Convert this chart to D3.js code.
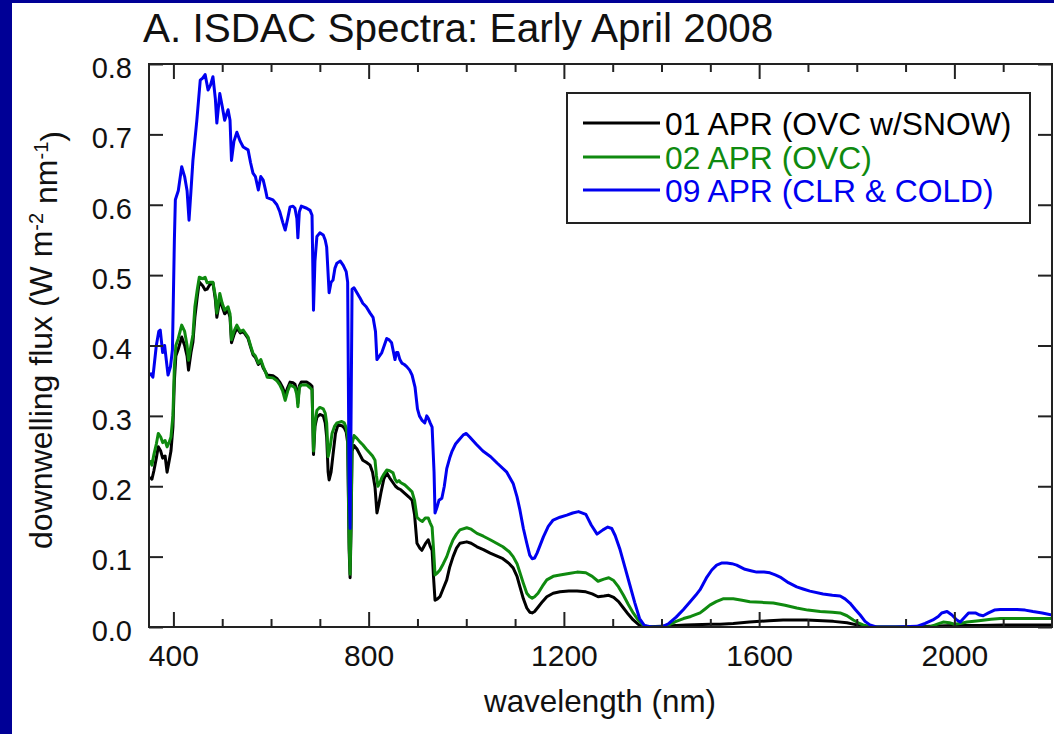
<!DOCTYPE html>
<html>
<head>
<meta charset="utf-8">
<script src="https://cdn.jsdelivr.net/npm/d3@7"></script>
<style>
  html, body { margin: 0; padding: 0; background: #000096; }
  svg { display: block; }
  text { font-family: "Liberation Sans", Arial, Helvetica, sans-serif; }
</style>
</head>
<body>
<svg id="chart" width="1054" height="734"></svg>
<script>
// ---------------- DATA ----------------
const seriesNames = ["01 APR (OVC w/SNOW)", "02 APR (OVC)", "09 APR (CLR & COLD)"];

// 01 APR (OVC w/SNOW)
const wl01 = [352,356,360,365,369,374,378,383,387,391,395,399,402,405,410,417,423,428,431,436,440,444,449,453,460,465,469,475,481,486,489,495,500,505,512,516,519,524,530,537,543,553,558,563,568,574,579,584,589,592,604,612,618,624,629,634,639,645,649,653,655,658,662,673,680,684,687,690,694,700,707,711,714,717,719,723,727,732,737,745,750,754,757,760,762,764,766,770,776,782,788,795,803,808,813,817,821,825,831,837,843,850,855,860,866,874,882,889,894,899,905,909,916,922,926,930,933,936,941,946,953,960,966,973,980,987,1001,1010,1022,1035,1049,1062,1075,1088,1096,1104,1110,1117,1124,1130,1135,1140,1147,1156,1165,1178,1192,1210,1227,1245,1258,1270,1282,1292,1302,1312,1322,1332,1342,1352,1362,1400,1450,1500,1520,1547,1580,1620,1649,1698,1730,1752,1780,1800,1815,1900,1950,2000,2050,2100,2150,2200];
const flux01 = [0.213,0.21,0.222,0.24,0.256,0.25,0.24,0.243,0.22,0.235,0.25,0.284,0.35,0.385,0.395,0.412,0.40,0.385,0.365,0.39,0.405,0.44,0.47,0.49,0.485,0.479,0.48,0.487,0.489,0.465,0.44,0.465,0.455,0.445,0.45,0.44,0.404,0.415,0.425,0.418,0.42,0.41,0.398,0.387,0.383,0.373,0.378,0.368,0.362,0.358,0.357,0.353,0.348,0.34,0.33,0.34,0.348,0.347,0.345,0.335,0.318,0.343,0.348,0.348,0.345,0.342,0.245,0.285,0.298,0.302,0.30,0.29,0.27,0.22,0.209,0.22,0.245,0.275,0.287,0.286,0.283,0.277,0.262,0.11,0.07,0.14,0.25,0.258,0.253,0.245,0.237,0.234,0.23,0.22,0.199,0.162,0.175,0.19,0.21,0.219,0.212,0.205,0.20,0.197,0.195,0.19,0.185,0.18,0.16,0.119,0.112,0.109,0.118,0.124,0.115,0.109,0.07,0.038,0.04,0.043,0.055,0.067,0.085,0.10,0.112,0.119,0.121,0.119,0.114,0.11,0.105,0.101,0.097,0.09,0.084,0.072,0.057,0.04,0.027,0.021,0.02,0.022,0.028,0.036,0.043,0.048,0.05,0.051,0.051,0.05,0.047,0.043,0.044,0.045,0.042,0.036,0.027,0.018,0.01,0.004,0.0,0.001,0.003,0.004,0.004,0.005,0.007,0.009,0.01,0.01,0.009,0.008,0.006,0.003,0.0,0.0,0.001,0.002,0.002,0.003,0.003,0.003];

// 02 APR (OVC)
const wl02 = [352,356,360,365,369,374,378,383,387,391,395,399,402,405,410,417,423,428,431,436,440,444,449,453,460,465,469,475,481,486,489,495,500,505,512,516,519,524,530,537,543,553,558,563,568,574,579,584,589,592,604,612,618,624,629,634,639,645,649,653,655,658,662,673,680,684,687,690,694,700,707,711,714,717,721,725,730,735,745,750,754,757,760,762,764,766,770,776,782,788,795,803,808,813,816,819,823,827,832,837,843,850,854,858,862,866,874,880,889,894,899,905,910,916,922,926,930,933,936,941,946,953,960,966,973,980,987,1001,1010,1022,1035,1049,1062,1075,1088,1096,1104,1110,1117,1124,1130,1135,1140,1147,1156,1165,1178,1192,1210,1227,1245,1258,1270,1282,1292,1302,1312,1322,1332,1342,1352,1362,1372,1400,1415,1430,1445,1460,1479,1490,1499,1512,1526,1547,1565,1581,1605,1629,1653,1677,1700,1725,1750,1766,1780,1793,1803,1813,1830,1950,1965,1977,1990,2000,2012,2026,2050,2075,2094,2150,2200];
const flux02 = [0.237,0.23,0.245,0.26,0.275,0.27,0.262,0.265,0.256,0.262,0.27,0.30,0.37,0.40,0.41,0.429,0.42,0.40,0.379,0.40,0.415,0.455,0.48,0.497,0.495,0.497,0.489,0.49,0.49,0.47,0.446,0.474,0.46,0.45,0.455,0.445,0.408,0.42,0.429,0.42,0.422,0.412,0.40,0.389,0.385,0.375,0.38,0.37,0.362,0.355,0.354,0.35,0.344,0.335,0.322,0.335,0.344,0.342,0.34,0.33,0.313,0.34,0.344,0.344,0.34,0.337,0.25,0.29,0.308,0.312,0.31,0.304,0.29,0.242,0.255,0.275,0.285,0.29,0.292,0.29,0.283,0.27,0.12,0.075,0.15,0.26,0.272,0.268,0.263,0.259,0.253,0.247,0.243,0.237,0.215,0.20,0.205,0.212,0.218,0.223,0.222,0.219,0.21,0.206,0.208,0.205,0.202,0.198,0.192,0.18,0.156,0.152,0.15,0.155,0.155,0.148,0.142,0.11,0.074,0.077,0.081,0.09,0.10,0.112,0.124,0.132,0.138,0.141,0.139,0.133,0.129,0.124,0.119,0.114,0.107,0.10,0.09,0.077,0.062,0.048,0.043,0.041,0.043,0.048,0.058,0.067,0.072,0.074,0.076,0.078,0.077,0.072,0.065,0.068,0.07,0.066,0.057,0.045,0.032,0.02,0.01,0.003,0.0,0.0,0.003,0.008,0.012,0.015,0.02,0.026,0.031,0.036,0.04,0.04,0.038,0.036,0.035,0.034,0.031,0.027,0.024,0.022,0.021,0.02,0.016,0.01,0.006,0.003,0.0,0.0,0.004,0.007,0.006,0.004,0.005,0.007,0.009,0.011,0.012,0.012,0.012];

// 09 APR (CLR & COLD)
const wl09 = [352,358,365,370,373,378,382,389,394,398,402,404,410,417,423,428,432,436,440,448,455,460,465,471,476,481,486,489,495,500,505,512,516,519,524,530,537,543,553,558,563,568,574,579,584,589,592,604,612,618,624,629,634,639,645,649,653,655,658,662,673,680,684,687,690,694,700,707,711,714,719,723,727,731,735,742,748,754,757,760,762,764,766,770,776,782,788,795,803,809,814,817,822,827,832,837,842,847,851,854,857,860,864,868,873,878,884,889,895,900,904,909,915,919,922,926,930,934,936,940,944,950,955,960,966,971,978,984,994,1000,1007,1020,1034,1050,1063,1083,1096,1104,1110,1117,1124,1130,1135,1140,1145,1158,1168,1178,1192,1206,1218,1230,1245,1256,1268,1280,1290,1298,1305,1315,1325,1335,1345,1355,1365,1380,1400,1415,1430,1445,1460,1470,1479,1493,1503,1513,1524,1534,1544,1554,1571,1583,1595,1610,1622,1633,1643,1660,1677,1690,1704,1731,1750,1766,1776,1786,1797,1807,1817,1827,1840,1880,1923,1940,1956,1967,1974,1985,1995,2005,2012,2020,2029,2043,2052,2059,2070,2082,2094,2128,2145,2161,2180,2200];
const flux09 = [0.361,0.355,0.40,0.42,0.422,0.39,0.40,0.358,0.37,0.394,0.55,0.607,0.62,0.654,0.64,0.62,0.578,0.62,0.663,0.72,0.777,0.78,0.785,0.763,0.77,0.782,0.75,0.716,0.758,0.74,0.72,0.735,0.72,0.663,0.69,0.703,0.69,0.682,0.678,0.66,0.645,0.64,0.621,0.64,0.635,0.62,0.61,0.607,0.60,0.59,0.575,0.564,0.58,0.597,0.598,0.595,0.58,0.553,0.59,0.598,0.595,0.592,0.585,0.45,0.52,0.555,0.56,0.557,0.55,0.54,0.475,0.49,0.493,0.51,0.517,0.52,0.514,0.505,0.49,0.20,0.14,0.30,0.48,0.482,0.475,0.468,0.46,0.455,0.446,0.44,0.42,0.38,0.385,0.39,0.40,0.41,0.408,0.404,0.39,0.38,0.39,0.39,0.38,0.375,0.373,0.37,0.365,0.358,0.341,0.31,0.30,0.294,0.29,0.30,0.297,0.29,0.284,0.22,0.162,0.17,0.18,0.183,0.20,0.225,0.24,0.25,0.26,0.265,0.273,0.275,0.27,0.26,0.25,0.242,0.233,0.22,0.204,0.185,0.166,0.14,0.119,0.102,0.097,0.098,0.105,0.128,0.143,0.152,0.156,0.159,0.162,0.164,0.16,0.145,0.132,0.138,0.142,0.14,0.13,0.11,0.085,0.06,0.035,0.012,0.002,0.0,0.0,0.005,0.014,0.025,0.037,0.045,0.053,0.071,0.081,0.088,0.091,0.091,0.09,0.088,0.082,0.08,0.078,0.078,0.077,0.074,0.071,0.063,0.057,0.054,0.051,0.047,0.045,0.044,0.04,0.034,0.025,0.017,0.008,0.003,0.0,0.0,0.001,0.005,0.01,0.015,0.02,0.022,0.017,0.01,0.007,0.013,0.02,0.02,0.017,0.016,0.02,0.024,0.025,0.025,0.024,0.022,0.02,0.017];

const seriesColors = ["#000000", "#0f8a0f", "#0000f0"];
const xMajorTicks = [400, 800, 1200, 1600, 2000];
const xMinorTicks = [500, 600, 700, 900, 1000, 1100, 1300, 1400, 1500, 1700, 1800, 1900, 2100];
const yTicks = [0.0, 0.1, 0.2, 0.3, 0.4, 0.5, 0.6, 0.7, 0.8];

const titleText = "A. ISDAC Spectra: Early April 2008";
const xLabel = "wavelength (nm)";

// ---------------- LAYOUT ----------------
const W = 1054, H = 734;
const plot = { left: 149, top: 64, right: 1052, bottom: 627 };

const svg = d3.select("#chart");
svg.append("rect").attr("x", 0).attr("y", 0).attr("width", W).attr("height", H).attr("fill", "#000096");
svg.append("rect").attr("x", 12).attr("y", 3).attr("width", W - 12).attr("height", H - 3).attr("fill", "#ffffff");

const x = d3.scaleLinear().domain([350, 2200]).range([plot.left, plot.right]);
const y = d3.scaleLinear().domain([0, 0.8]).range([plot.bottom, plot.top]);

// clip
svg.append("clipPath").attr("id", "clip").append("rect")
  .attr("x", plot.left).attr("y", plot.top - 2)
  .attr("width", plot.right - plot.left).attr("height", plot.bottom - plot.top + 2);

const line = d3.line().x(d => x(d[0])).y(d => y(d[1]));
const series = [
  { name: seriesNames[0], wl: wl01, v: flux01, color: seriesColors[0] },
  { name: seriesNames[1], wl: wl02, v: flux02, color: seriesColors[1] },
  { name: seriesNames[2], wl: wl09, v: flux09, color: seriesColors[2] }
];
const gLines = svg.append("g").attr("clip-path", "url(#clip)");
series.forEach(s => {
  gLines.append("path")
    .datum(s.wl.map((w, i) => [w, s.v[i]]))
    .attr("d", line)
    .attr("fill", "none")
    .attr("stroke", s.color)
    .attr("stroke-width", 3)
    .attr("stroke-linejoin", "round");
});

// axes
const axisColor = "#222";
function styleAxis(g) {
  g.select(".domain").remove();
  g.selectAll(".tick line").attr("stroke", axisColor).attr("stroke-width", 2);
  g.selectAll(".tick text").attr("fill", "#111").style("font-family", '"Liberation Sans", Arial, sans-serif');
}
// bottom major
svg.append("g").attr("transform", `translate(0,${plot.bottom})`)
  .call(d3.axisBottom(x).tickValues(xMajorTicks).tickSize(-15).tickPadding(18).tickFormat(d3.format("d")))
  .call(styleAxis)
  .call(g => g.selectAll(".tick text").style("font-size", "30px"));
// bottom minor
svg.append("g").attr("transform", `translate(0,${plot.bottom})`)
  .call(d3.axisBottom(x).tickValues(xMinorTicks).tickSize(-8).tickFormat(""))
  .call(styleAxis);
// top major + minor
svg.append("g").attr("transform", `translate(0,${plot.top})`)
  .call(d3.axisTop(x).tickValues(xMajorTicks).tickSize(-15).tickFormat(""))
  .call(styleAxis);
svg.append("g").attr("transform", `translate(0,${plot.top})`)
  .call(d3.axisTop(x).tickValues(xMinorTicks).tickSize(-8).tickFormat(""))
  .call(styleAxis);
// left
svg.append("g").attr("transform", `translate(${plot.left},0)`)
  .call(d3.axisLeft(y).tickValues(yTicks).tickSize(-14).tickPadding(17).tickFormat(d3.format(".1f")))
  .call(styleAxis)
  .call(g => g.selectAll(".tick text").style("font-size", "29px").attr("dy", "0.46em"));
// right
svg.append("g").attr("transform", `translate(${plot.right},0)`)
  .call(d3.axisRight(y).tickValues(yTicks).tickSize(-14).tickFormat(""))
  .call(styleAxis);

// frame
svg.append("rect")
  .attr("x", plot.left).attr("y", plot.top)
  .attr("width", plot.right - plot.left).attr("height", plot.bottom - plot.top)
  .attr("fill", "none").attr("stroke", axisColor).attr("stroke-width", 2);

// title
svg.append("text").attr("x", 143).attr("y", 42)
  .style("font-size", "40.5px").attr("fill", "#111").text(titleText);

// x label
svg.append("text").attr("x", 600).attr("y", 712).attr("text-anchor", "middle")
  .style("font-size", "31.4px").attr("fill", "#111").text(xLabel);

// y label with superscripts
const yl = svg.append("text")
  .attr("transform", "translate(52,340) rotate(-90)")
  .attr("text-anchor", "middle")
  .style("font-size", "32px").attr("fill", "#111");
yl.append("tspan").text("downwelling flux (W m");
yl.append("tspan").attr("dy", "-0.45em").style("font-size", "20px").text("-2");
yl.append("tspan").attr("dy", "0.45em").text(" nm");
yl.append("tspan").attr("dy", "-0.45em").style("font-size", "20px").text("-1");
yl.append("tspan").attr("dy", "0.45em").text(")");

// legend
const leg = { x0: 567, y0: 93, x1: 1030, y1: 223 };
svg.append("rect").attr("x", leg.x0).attr("y", leg.y0)
  .attr("width", leg.x1 - leg.x0).attr("height", leg.y1 - leg.y0)
  .attr("fill", "#fff").attr("stroke", axisColor).attr("stroke-width", 2);
const rowY = [123, 157, 190];
series.forEach((s, i) => {
  svg.append("line").attr("x1", 583).attr("x2", 660).attr("y1", rowY[i]).attr("y2", rowY[i])
    .attr("stroke", s.color).attr("stroke-width", 3);
  svg.append("text").attr("x", 665).attr("y", rowY[i] + 11.5)
    .style("font-size", "31.8px").attr("fill", s.color).text(s.name);
});
</script>
</body>
</html>
